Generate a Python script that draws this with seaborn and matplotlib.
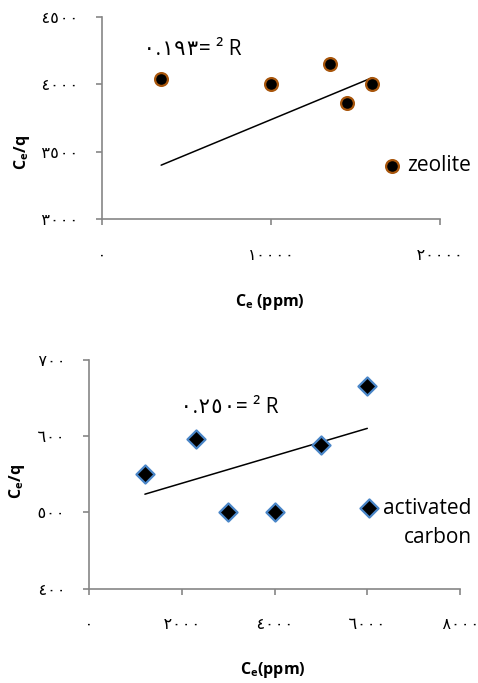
import matplotlib
matplotlib.use("Agg")
import matplotlib.pyplot as plt
import seaborn as sns

# zeolite (top panel)
zeo_ce = [3500, 10000, 13500, 14500, 16000]
zeo_ceq = [4040, 4000, 4150, 3860, 4000]
zeo_trend_x = [3500, 16000]
zeo_trend_y = [3400, 4050]
zeo_xticks = [0, 10000, 20000]
zeo_xticklabels = ['٠', '١٠٠٠٠', '٢٠٠٠٠']
zeo_yticks = [3000, 3500, 4000, 4500]
zeo_yticklabels = ['٣٠٠٠', '٣٥٠٠', '٤٠٠٠', '٤٥٠٠']
zeo_r2 = '٠.١٩٣= ² R'

# activated carbon (bottom panel)
ac_ce = [1200, 2300, 3000, 4000, 5000, 6000]
ac_ceq = [550, 597, 500, 500, 588, 666]
ac_xticks = [0, 2000, 4000, 6000, 8000]
ac_xticklabels = ['٠', '٢٠٠٠', '٤٠٠٠', '٦٠٠٠', '٨٠٠٠']
ac_yticks = [400, 500, 600, 700]
ac_yticklabels = ['٤٠٠', '٥٠٠', '٦٠٠', '٧٠٠']
ac_r2 = '٠.٢٥٠= ² R'

sns.set_style("white")
plt.rcParams['font.family'] = ['Open Sans', 'DejaVu Sans Mono', 'DejaVu Sans']
plt.rcParams['mathtext.fontset'] = 'custom'
plt.rcParams['mathtext.rm'] = 'Open Sans'
plt.rcParams['mathtext.bf'] = 'Open Sans:bold'
plt.rcParams['text.color'] = 'black'
plt.rcParams['axes.labelcolor'] = 'black'

GREY = '#868686'
BIG = 15
TICKFONT = ['DejaVu Sans Mono', 'DejaVu Sans']

fig = plt.figure(figsize=(4.78, 6.83), dpi=100)
ax1 = fig.add_axes([0.2134, 0.6793, 0.7071, 0.2958])
ax2 = fig.add_axes([0.1868, 0.1381, 0.7755, 0.3348])


def style_axes(ax, xticks, xlabels, yticks, ylabels):
    sns.despine(ax=ax)
    for side in ['left', 'bottom']:
        ax.spines[side].set_color(GREY)
        ax.spines[side].set_linewidth(1.2)
    ax.set_xlim(xticks[0], xticks[-1])
    ax.set_ylim(yticks[0], yticks[-1])
    ax.set_xticks(xticks, xlabels, family=TICKFONT)
    ax.set_yticks(yticks, ylabels, family=TICKFONT)
    ax.tick_params(axis='both', direction='out', length=4, width=1.2,
                   bottom=True, left=True,
                   color=GREY, labelsize=11.5, labelcolor='black')
    ax.tick_params(axis='x', pad=16.5)
    ax.tick_params(axis='y', pad=13)
    ax.set_facecolor('white')


# top: zeolite
sns.lineplot(x=zeo_trend_x, y=zeo_trend_y, ax=ax1, color='black', linewidth=1.1)
sns.scatterplot(x=zeo_ce, y=zeo_ceq, ax=ax1, marker='o', s=85, color='black',
                edgecolor='#a8560c', linewidth=1.6, label='zeolite', zorder=3)
style_axes(ax1, zeo_xticks, zeo_xticklabels, zeo_yticks, zeo_yticklabels)
ax1.set_xlabel(r'$\mathbf{C_e}$ (ppm)', fontsize=11.5, fontweight='bold')
ax1.set_ylabel(r'$\mathbf{C_e}$/q', fontsize=11.5, fontweight='bold', ha='center', va='center')
ax1.xaxis.set_label_coords(0.497, -0.411)
ax1.xaxis.label.set_va('center')
ax1.yaxis.set_label_coords(-0.237, 0.327)
ax1.text(0.268, 0.837, zeo_r2, transform=ax1.transAxes, ha='center', va='center', fontsize=BIG)
ax1.legend(loc='center left', bbox_to_anchor=(0.7983, 0.757), bbox_transform=fig.transFigure,
           frameon=False, fontsize=BIG, handlelength=1, handletextpad=0.22,
           borderpad=0, borderaxespad=0)

# bottom: activated carbon
sns.regplot(x=ac_ce, y=ac_ceq, ax=ax2, scatter=False, ci=None, truncate=True,
            line_kws=dict(color='black', linewidth=1.1))
sns.scatterplot(x=ac_ce, y=ac_ceq, ax=ax2, marker='D', s=85, color='black',
                edgecolor='#4a86c8', linewidth=1.6, label='activated', zorder=3)
style_axes(ax2, ac_xticks, ac_xticklabels, ac_yticks, ac_yticklabels)
ax2.set_xlabel(r'$\mathbf{C_e}$(ppm)', fontsize=11.5, fontweight='bold')
ax2.set_ylabel(r'$\mathbf{C_e}$/q', fontsize=11.5, fontweight='bold', ha='center', va='center')
ax2.xaxis.set_label_coords(0.4956, -0.355)
ax2.xaxis.label.set_va('center')
ax2.yaxis.set_label_coords(-0.195, 0.468)
ax2.text(0.377, 0.794, ac_r2, transform=ax2.transAxes, ha='center', va='center', fontsize=BIG)
ax2.legend(loc='center left', bbox_to_anchor=(0.7502, 0.2562), bbox_transform=fig.transFigure,
           frameon=False, fontsize=BIG, handlelength=1, handletextpad=0.17,
           borderpad=0, borderaxespad=0)
fig.text(0.9874, 0.2123, 'carbon', ha='right', va='center', fontsize=BIG)

fig.savefig('out.png', dpi=100, facecolor='white')
